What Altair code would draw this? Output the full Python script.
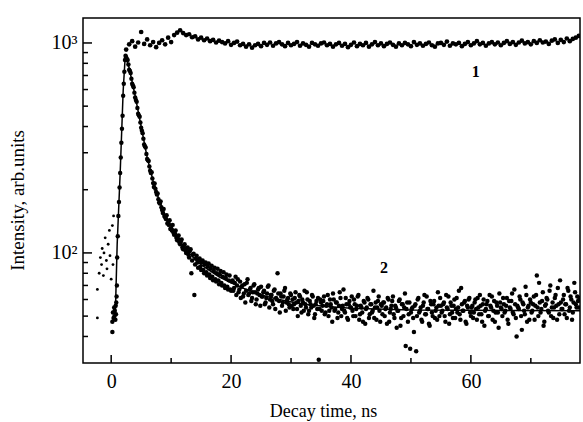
import altair as alt
import pandas as pd
import numpy as np

# ---------------- data ----------------
# Curve 1: sampled every 0.5 ns from 2.5 ns
s1_start, s1_step = 2.5, 0.5
s1_values = [
    930, 985, 1020, 960, 1005, 1128, 990, 1040, 975, 1010,
    955, 1000, 1030, 985, 1060, 1010, 1090, 1120, 1150, 1115,
    1090, 1100, 1065, 1075, 1040, 1060, 1030, 1050, 1020, 1035,
    1005, 1025, 1010, 995, 1020, 980, 1000, 1015, 975, 990,
    960, 985, 950, 975, 990, 965, 1000, 980, 1005, 970,
    995, 1010, 985, 965, 1000, 975, 990, 1010, 970, 995,
    980, 960, 1000, 985, 970, 995, 1005, 975, 990, 960,
    985, 1000, 970, 990, 955, 980, 1005, 965, 990, 975,
    1000, 960, 985, 1010, 975, 995, 965, 990, 1005, 980,
    960, 995, 975, 1000, 985, 965, 1010, 980, 995, 970,
    990, 1005, 975, 960, 995, 1000, 980, 1015, 970, 995,
    985, 1000, 965, 990, 1010, 975, 995, 1020, 985, 1000,
    970, 995, 1010, 985, 1005, 975, 1000, 1020, 990, 1010,
    980, 1005, 1025, 995, 1010, 985, 1020, 1000, 1030, 1005,
    1015, 990, 1025, 1040, 1000, 1035, 1010, 1050, 1020, 1045,
    1060, 1080,
]

# Curve 2, set A: every 0.25 ns from 2.75 ns
s2a_start, s2a_step = 2.75, 0.25
s2a_values = [
    830, 745, 720, 640, 615, 550, 525, 460, 445, 395,
    372, 328, 318, 280, 274, 246, 242, 215, 214, 195,
    192, 174, 176, 160, 162, 148, 151, 140, 143, 131,
    136, 122, 128, 115, 121, 110, 116, 104, 110, 100,
    106, 95, 104, 92, 99, 88, 97, 85, 94, 83,
    92, 80, 90, 78, 89, 76, 87, 74, 85, 73,
    84, 71, 82, 70, 81, 68, 79, 67, 78, 66,
    74, 68, 77, 70, 65, 73, 69, 62, 71, 66, 75, 64, 68, 61, 70, 65, 60, 67, 63, 69,
    62, 66, 58, 64, 70, 60, 63, 57, 67, 61, 80, 59, 64, 56, 62, 68, 58, 61, 55, 63,
    60, 57, 65, 54, 59, 62, 52, 58, 66, 55, 60, 53, 57, 63, 56, 51, 59, 61, 54, 58,
    56, 62, 52, 57, 50, 60, 55, 64, 53, 58, 49, 56, 61, 54, 67, 52, 57, 48, 59, 55,
    53, 60, 50, 56, 63, 51, 55, 47, 58, 54, 61, 49, 57, 52, 66, 55, 48, 59, 53, 57,
    51, 58, 54, 46, 60, 52, 56, 62, 49, 55, 53, 59, 45, 57, 50, 64, 54, 47, 58, 52,
    55, 42, 57, 50, 61, 53, 48, 56, 63, 51, 54, 46, 59, 52, 57, 49, 55, 65, 50, 56,
    53, 58, 47, 55, 62, 51, 56, 49, 60, 54, 52, 66, 48, 57, 53, 59, 46, 55, 61, 50,
    56, 52, 60, 48, 55, 63, 51, 57, 45, 54, 59, 50, 56, 62, 53, 47, 58, 52, 64, 55,
    50, 57, 53, 61, 46, 55, 59, 52, 67, 49, 56, 54, 60, 43, 57, 51, 63, 55, 48, 58,
    53, 62, 56, 78, 50, 58, 54, 65, 47, 57, 60, 52, 70, 55, 49, 61, 56, 68, 51, 58,
    54, 63, 57, 49, 66, 55, 60, 52, 72, 57, 62, 55,
]

# Curve 2, set B: every 0.25 ns from 2.875 ns
s2b_start, s2b_step = 2.875, 0.25
s2b_values = [
    790, 735, 675, 628, 580, 535, 490, 452, 418, 382,
    350, 322, 296, 276, 258, 240, 226, 206, 202, 190,
    180, 172, 165, 155, 150, 145, 138, 136, 130, 128,
    125, 124, 118, 117, 112, 113, 106, 108, 103, 105,
    98, 102, 80, 98, 63, 94, 90, 92, 86, 90,
    83, 88, 81, 86, 79, 84, 77, 82, 75, 80,
    74, 79, 72, 77, 70, 76, 69, 74, 67, 73,
    66, 72, 63, 75, 67, 61, 70, 64, 58, 72, 63, 67, 59, 65, 71, 57, 64, 68, 56, 62,
    65, 57, 61, 69, 55, 63, 59, 66, 54, 60, 64, 52, 62, 58, 66, 53, 60, 57, 64, 56,
    54, 61, 58, 50, 63, 56, 60, 53, 57, 65, 51, 59, 55, 62, 49, 57, 54, 31, 60, 53,
    59, 51, 56, 63, 53, 57, 47, 60, 54, 58, 52, 65, 50, 56, 53, 61, 49, 57, 55, 62,
    50, 57, 54, 62, 48, 56, 52, 59, 46, 55, 60, 51, 57, 53, 49, 58, 55, 62, 47, 56,
    58, 50, 55, 61, 47, 54, 59, 51, 56, 44, 53, 60, 49, 57, 55, 36, 58, 51, 35, 54,
    49, 56, 34, 60, 52, 55, 47, 58, 51, 62, 54, 45, 57, 50, 59, 53, 48, 56, 61, 52,
    57, 50, 63, 54, 46, 58, 52, 56, 49, 61, 55, 51, 68, 53, 58, 47, 56, 60, 52, 55,
    49, 58, 54, 61, 51, 56, 47, 60, 53, 57, 50, 63, 55, 48, 59, 52, 56, 44, 58, 54,
    61, 52, 56, 48, 59, 54, 64, 51, 57, 40, 55, 62, 50, 58, 53, 69, 47, 56, 60, 52,
    57, 48, 63, 55, 72, 52, 59, 45, 56, 61, 53, 66, 50, 58, 55, 63, 48, 57, 74, 54,
    60, 51, 57, 68, 53, 62, 48, 58, 65, 55, 59, 61,
]

# Curve 2: rising edge points
rise_t = [0.2, 0.2, 0.3, 0.4, 0.5, 0.55, 0.6, 0.7, 0.75, 0.8, 0.85, 0.9, 0.95,
          1.0, 1.1, 1.2, 1.3, 1.4, 1.5, 1.6, 1.7, 1.8, 1.9, 2.0, 2.1, 2.2, 2.3, 2.4, 2.5, 2.6]
rise_v = [47, 42, 52, 49, 55, 50, 53, 48, 56, 51, 58, 62, 70,
          95, 120, 150, 175, 205, 240, 285, 335, 390, 450, 560, 640, 730, 830, 870, 855, 840]

# Background points before the pulse
pre_t = [-2.3, -2.3, -2.0, -1.8, -1.6, -1.5, -1.3, -1.2, -1.0, -0.8, -0.7, -0.5, -0.3, -0.2, 0.0, 0.2, 0.3, 0.4]
pre_v = [49, 67, 80, 95, 88, 105, 78, 100, 118, 92, 84, 110, 128, 97, 75, 135, 88, 150]

# Fitted curve through curve 2
fit_t = [0.4, 0.7, 1.0, 1.5, 2.0, 2.35, 3, 4, 5, 6, 7, 8, 9, 10, 11, 12, 13, 14, 15, 16,
         18, 20, 22, 25, 28, 32, 36, 40, 50, 78.2]
fit_v = [48, 52, 110, 240, 590, 870, 760, 560, 400, 285, 220, 178, 152, 135, 120, 108, 100, 93, 88, 84,
         77, 72, 68, 63, 60, 57, 55.5, 54.5, 53.5, 53]

# Curve labels
label_text = ["1", "2"]
label_t = [60.8, 45.5]
label_v = [728, 85]

# Axes
x_major = [0, 20, 40, 60]
x_minor = [10, 30, 50, 70]
y_major = [100, 1000]
y_minor = [40, 50, 60, 70, 80, 90, 200, 300, 400, 500, 600, 700, 800, 900]
x_domain = [-4.7, 78.2]
y_domain = [29.9, 1315]

# ---------------- frames ----------------
def series(start, step, vals):
    return pd.DataFrame({"t": start + step * np.arange(len(vals)), "v": vals})

df1 = series(s1_start, s1_step, s1_values)
df2 = pd.concat([series(s2a_start, s2a_step, s2a_values),
                 series(s2b_start, s2b_step, s2b_values),
                 pd.DataFrame({"t": rise_t, "v": rise_v})])
dfpre = pd.DataFrame({"t": pre_t, "v": pre_v})
dffit = pd.DataFrame({"t": fit_t, "v": fit_v})
dflab = pd.DataFrame({"t": label_t, "v": label_v, "s": label_text})

W, H = 497, 345
FONT = "Liberation Serif"

xs = alt.Scale(domain=x_domain, nice=False, zero=False)
ys = alt.Scale(type="log", domain=y_domain, nice=False)

X = alt.X("t:Q", scale=xs, axis=alt.Axis(
    values=x_major, ticks=False, domain=False, grid=False,
    labelFont=FONT, labelFontSize=20, labelColor="black", labelPadding=8,
    title="Decay time, ns", titleFont=FONT, titleFontSize=18, titleFontWeight="normal",
    titleColor="black", titleX=240, titleY=53, titleBaseline="alphabetic"))
Y = alt.Y("v:Q", scale=ys, axis=alt.Axis(
    values=y_major, ticks=False, domain=False, grid=False,
    labelExpr="datum.value == 100 ? '10²' : '10³'",
    labelFont=FONT, labelFontSize=20, labelColor="black", labelPadding=6,
    title="Intensity, arb.units", titleFont=FONT, titleFontSize=19, titleFontWeight="normal",
    titleColor="black", titleX=-56, titleY=182, titleAngle=-90))

pts1 = alt.Chart(df1).mark_circle(color="black", size=22, opacity=1, clip=True).encode(x=X, y=Y)
pts2 = alt.Chart(df2).mark_circle(color="black", size=20, opacity=1, clip=True).encode(
    x=alt.X("t:Q", scale=xs), y=alt.Y("v:Q", scale=ys))
pre = alt.Chart(dfpre).mark_circle(color="black", size=8, opacity=1, clip=True).encode(
    x=alt.X("t:Q", scale=xs), y=alt.Y("v:Q", scale=ys))
fit = alt.Chart(dffit).mark_line(color="black", strokeWidth=1.5, clip=True).encode(
    x=alt.X("t:Q", scale=xs), y=alt.Y("v:Q", scale=ys))
labs = alt.Chart(dflab).mark_text(font=FONT, fontSize=16, fontWeight="bold", color="black").encode(
    x=alt.X("t:Q", scale=xs), y=alt.Y("v:Q", scale=ys), text="s:N")

def yticks(vals, length):
    return alt.Chart(pd.DataFrame({"v": vals})).mark_rule(color="black", strokeWidth=1.5).encode(
        y=alt.Y("v:Q", scale=ys), x=alt.value(0), x2=alt.value(length))

def xticks(vals, length):
    return alt.Chart(pd.DataFrame({"t": vals})).mark_rule(color="black", strokeWidth=1.5).encode(
        x=alt.X("t:Q", scale=xs), y=alt.value(H), y2=alt.value(H - length))

chart = alt.layer(
    pts1, pts2, pre, fit, labs,
    yticks(y_major, 9), yticks(y_minor, 5), xticks(x_major, 8), xticks(x_minor, 5),
).properties(
    width=W, height=H,
    autosize=alt.AutoSizeParams(type="none"),
    padding={"left": 83, "top": 18, "right": 3, "bottom": 59},
    background="white",
).configure_view(stroke="black", strokeWidth=1.5)

chart.save("out.html", embed_options={"renderer": "svg", "actions": False})
